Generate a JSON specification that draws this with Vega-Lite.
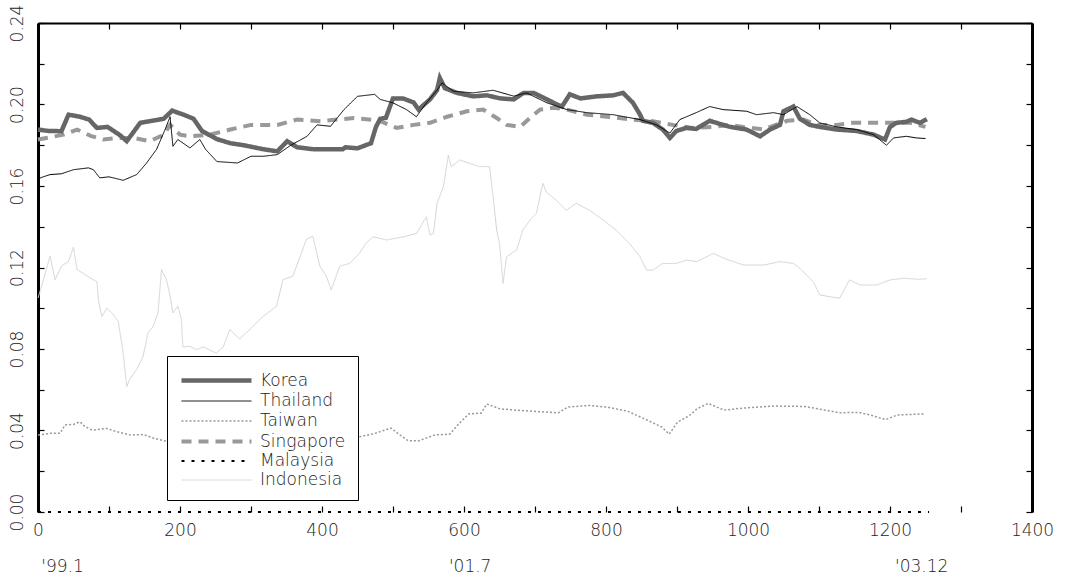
{
 "$schema": "https://vega.github.io/schema/vega-lite/v6.json",
 "width": 994,
 "height": 489,
 "autosize": {"type": "none"},
 "padding": {"left": 38, "top": 23, "right": 38, "bottom": 69},
 "background": "white",
 "config": {
  "view": {"stroke": null},
  "font": "DejaVu Sans",
  "axis": {"labelFont": "DejaVu Sans", "labelFontWeight": 200, "labelColor": "#222", "labelFontSize": 17, "grid": false, "tickColor": "black", "domainColor": "black", "title": null, "tickWidth": 1.2},
  "legend": {"padding": 12, "strokeColor": "#000000", "fillColor": "white", "symbolType": "M-3.5,0H3.5", "symbolSize": 400, "symbolOffset": 25, "labelOffset": 31, "labelFontSize": 17, "labelFont": "DejaVu Sans", "labelFontWeight": 200, "labelColor": "#222", "rowPadding": 0.5, "cornerRadius": 0}
 },
 "data": {"values": [
  {"s":"Indonesia","t":0,"v":0.105},{"s":"Indonesia","t":5,"v":0.1108},{"s":"Indonesia","t":17,"v":0.1256},{"s":"Indonesia","t":24,"v":0.114},{"s":"Indonesia","t":33,"v":0.1207},{"s":"Indonesia","t":43,"v":0.123},{"s":"Indonesia","t":50,"v":0.130},{"s":"Indonesia","t":55,"v":0.119},{"s":"Indonesia","t":64,"v":0.117},{"s":"Indonesia","t":78,"v":0.114},{"s":"Indonesia","t":83,"v":0.113},{"s":"Indonesia","t":85,"v":0.104},{"s":"Indonesia","t":90,"v":0.096},{"s":"Indonesia","t":97,"v":0.100},{"s":"Indonesia","t":106,"v":0.097},{"s":"Indonesia","t":113,"v":0.0936},{"s":"Indonesia","t":120,"v":0.078},{"s":"Indonesia","t":125,"v":0.0616},{"s":"Indonesia","t":129,"v":0.065},{"s":"Indonesia","t":139,"v":0.070},{"s":"Indonesia","t":148,"v":0.0764},{"s":"Indonesia","t":155,"v":0.088},{"s":"Indonesia","t":162,"v":0.091},{"s":"Indonesia","t":169,"v":0.0977},{"s":"Indonesia","t":174,"v":0.119},{"s":"Indonesia","t":181,"v":0.114},{"s":"Indonesia","t":186,"v":0.106},{"s":"Indonesia","t":190,"v":0.0977},{"s":"Indonesia","t":197,"v":0.101},{"s":"Indonesia","t":202,"v":0.0944},{"s":"Indonesia","t":204,"v":0.081},{"s":"Indonesia","t":214,"v":0.0813},{"s":"Indonesia","t":223,"v":0.0797},{"s":"Indonesia","t":233,"v":0.081},{"s":"Indonesia","t":251,"v":0.078},{"s":"Indonesia","t":261,"v":0.081},{"s":"Indonesia","t":270,"v":0.0895},{"s":"Indonesia","t":284,"v":0.085},{"s":"Indonesia","t":298,"v":0.0895},{"s":"Indonesia","t":317,"v":0.096},{"s":"Indonesia","t":336,"v":0.101},{"s":"Indonesia","t":345,"v":0.114},{"s":"Indonesia","t":359,"v":0.1158},{"s":"Indonesia","t":378,"v":0.1338},{"s":"Indonesia","t":387,"v":0.1354},{"s":"Indonesia","t":397,"v":0.1207},{"s":"Indonesia","t":406,"v":0.1158},{"s":"Indonesia","t":413,"v":0.109},{"s":"Indonesia","t":425,"v":0.1207},{"s":"Indonesia","t":439,"v":0.122},{"s":"Indonesia","t":453,"v":0.127},{"s":"Indonesia","t":462,"v":0.132},{"s":"Indonesia","t":472,"v":0.1351},{"s":"Indonesia","t":491,"v":0.1335},{"s":"Indonesia","t":515,"v":0.1351},{"s":"Indonesia","t":533,"v":0.1367},{"s":"Indonesia","t":547,"v":0.1449},{"s":"Indonesia","t":552,"v":0.136},{"s":"Indonesia","t":557,"v":0.1367},{"s":"Indonesia","t":562,"v":0.1515},{"s":"Indonesia","t":571,"v":0.1597},{"s":"Indonesia","t":578,"v":0.1752},{"s":"Indonesia","t":582,"v":0.1695},{"s":"Indonesia","t":594,"v":0.1728},{"s":"Indonesia","t":608,"v":0.1711},{"s":"Indonesia","t":622,"v":0.1695},{"s":"Indonesia","t":636,"v":0.1695},{"s":"Indonesia","t":641,"v":0.1547},{"s":"Indonesia","t":646,"v":0.1384},{"s":"Indonesia","t":650,"v":0.1318},{"s":"Indonesia","t":655,"v":0.1122},{"s":"Indonesia","t":660,"v":0.1253},{"s":"Indonesia","t":674,"v":0.1286},{"s":"Indonesia","t":683,"v":0.1384},{"s":"Indonesia","t":693,"v":0.1433},{"s":"Indonesia","t":702,"v":0.1466},{"s":"Indonesia","t":711,"v":0.1613},{"s":"Indonesia","t":716,"v":0.157},{"s":"Indonesia","t":730,"v":0.153},{"s":"Indonesia","t":744,"v":0.148},{"s":"Indonesia","t":758,"v":0.1515},{"s":"Indonesia","t":777,"v":0.148},{"s":"Indonesia","t":796,"v":0.1433},{"s":"Indonesia","t":814,"v":0.1384},{"s":"Indonesia","t":833,"v":0.1318},{"s":"Indonesia","t":848,"v":0.1253},{"s":"Indonesia","t":857,"v":0.1187},{"s":"Indonesia","t":866,"v":0.1187},{"s":"Indonesia","t":880,"v":0.122},{"s":"Indonesia","t":899,"v":0.122},{"s":"Indonesia","t":913,"v":0.1236},{"s":"Indonesia","t":928,"v":0.1229},{"s":"Indonesia","t":951,"v":0.1269},{"s":"Indonesia","t":970,"v":0.124},{"s":"Indonesia","t":994,"v":0.1212},{"s":"Indonesia","t":1022,"v":0.1212},{"s":"Indonesia","t":1045,"v":0.1229},{"s":"Indonesia","t":1064,"v":0.122},{"s":"Indonesia","t":1073,"v":0.1196},{"s":"Indonesia","t":1087,"v":0.1147},{"s":"Indonesia","t":1092,"v":0.113},{"s":"Indonesia","t":1101,"v":0.1065},{"s":"Indonesia","t":1115,"v":0.1057},{"s":"Indonesia","t":1129,"v":0.1049},{"s":"Indonesia","t":1143,"v":0.1139},{"s":"Indonesia","t":1158,"v":0.1114},{"s":"Indonesia","t":1181,"v":0.1114},{"s":"Indonesia","t":1200,"v":0.1139},{"s":"Indonesia","t":1219,"v":0.1147},{"s":"Indonesia","t":1242,"v":0.1142},{"s":"Indonesia","t":1252,"v":0.1145},
  {"s":"Taiwan","t":0,"v":0.0378},{"s":"Taiwan","t":17,"v":0.0386},{"s":"Taiwan","t":31,"v":0.0386},{"s":"Taiwan","t":38,"v":0.0427},{"s":"Taiwan","t":50,"v":0.043},{"s":"Taiwan","t":59,"v":0.0443},{"s":"Taiwan","t":66,"v":0.042},{"s":"Taiwan","t":76,"v":0.0402},{"s":"Taiwan","t":97,"v":0.041},{"s":"Taiwan","t":111,"v":0.0394},{"s":"Taiwan","t":130,"v":0.0378},{"s":"Taiwan","t":149,"v":0.038},{"s":"Taiwan","t":163,"v":0.0362},{"s":"Taiwan","t":177,"v":0.035},{"s":"Taiwan","t":200,"v":0.034},{"s":"Taiwan","t":250,"v":0.035},{"s":"Taiwan","t":300,"v":0.036},{"s":"Taiwan","t":350,"v":0.037},{"s":"Taiwan","t":400,"v":0.037},{"s":"Taiwan","t":440,"v":0.036},{"s":"Taiwan","t":472,"v":0.0383},{"s":"Taiwan","t":497,"v":0.0412},{"s":"Taiwan","t":506,"v":0.0388},{"s":"Taiwan","t":521,"v":0.035},{"s":"Taiwan","t":537,"v":0.035},{"s":"Taiwan","t":559,"v":0.0378},{"s":"Taiwan","t":580,"v":0.0382},{"s":"Taiwan","t":593,"v":0.0434},{"s":"Taiwan","t":607,"v":0.0482},{"s":"Taiwan","t":624,"v":0.0485},{"s":"Taiwan","t":632,"v":0.053},{"s":"Taiwan","t":651,"v":0.0506},{"s":"Taiwan","t":684,"v":0.0497},{"s":"Taiwan","t":733,"v":0.0487},{"s":"Taiwan","t":746,"v":0.0515},{"s":"Taiwan","t":776,"v":0.0523},{"s":"Taiwan","t":803,"v":0.0514},{"s":"Taiwan","t":830,"v":0.0495},{"s":"Taiwan","t":857,"v":0.0453},{"s":"Taiwan","t":879,"v":0.0416},{"s":"Taiwan","t":889,"v":0.0382},{"s":"Taiwan","t":901,"v":0.0442},{"s":"Taiwan","t":917,"v":0.0472},{"s":"Taiwan","t":928,"v":0.0506},{"s":"Taiwan","t":944,"v":0.0533},{"s":"Taiwan","t":966,"v":0.050},{"s":"Taiwan","t":993,"v":0.051},{"s":"Taiwan","t":1036,"v":0.052},{"s":"Taiwan","t":1080,"v":0.0518},{"s":"Taiwan","t":1129,"v":0.0487},{"s":"Taiwan","t":1156,"v":0.0489},{"s":"Taiwan","t":1172,"v":0.0476},{"s":"Taiwan","t":1194,"v":0.0453},{"s":"Taiwan","t":1210,"v":0.0476},{"s":"Taiwan","t":1250,"v":0.0482},
  {"s":"Malaysia","t":0,"v":0},{"s":"Malaysia","t":1255,"v":0},
  {"s":"Singapore","t":0,"v":0.1828},{"s":"Singapore","t":36,"v":0.1852},{"s":"Singapore","t":55,"v":0.1877},{"s":"Singapore","t":75,"v":0.1845},{"s":"Singapore","t":92,"v":0.1828},{"s":"Singapore","t":115,"v":0.1836},{"s":"Singapore","t":134,"v":0.1836},{"s":"Singapore","t":158,"v":0.182},{"s":"Singapore","t":177,"v":0.1852},{"s":"Singapore","t":186,"v":0.190},{"s":"Singapore","t":200,"v":0.1852},{"s":"Singapore","t":214,"v":0.1844},{"s":"Singapore","t":242,"v":0.1852},{"s":"Singapore","t":271,"v":0.1877},{"s":"Singapore","t":300,"v":0.190},{"s":"Singapore","t":337,"v":0.190},{"s":"Singapore","t":365,"v":0.1926},{"s":"Singapore","t":398,"v":0.1918},{"s":"Singapore","t":422,"v":0.1926},{"s":"Singapore","t":445,"v":0.1934},{"s":"Singapore","t":480,"v":0.1922},{"s":"Singapore","t":505,"v":0.1885},{"s":"Singapore","t":529,"v":0.190},{"s":"Singapore","t":552,"v":0.191},{"s":"Singapore","t":576,"v":0.194},{"s":"Singapore","t":604,"v":0.1967},{"s":"Singapore","t":627,"v":0.1975},{"s":"Singapore","t":646,"v":0.1934},{"s":"Singapore","t":660,"v":0.190},{"s":"Singapore","t":679,"v":0.189},{"s":"Singapore","t":693,"v":0.1934},{"s":"Singapore","t":707,"v":0.1975},{"s":"Singapore","t":726,"v":0.1984},{"s":"Singapore","t":745,"v":0.1975},{"s":"Singapore","t":773,"v":0.195},{"s":"Singapore","t":801,"v":0.194},{"s":"Singapore","t":838,"v":0.1926},{"s":"Singapore","t":866,"v":0.1918},{"s":"Singapore","t":894,"v":0.190},{"s":"Singapore","t":922,"v":0.1885},{"s":"Singapore","t":951,"v":0.189},{"s":"Singapore","t":975,"v":0.190},{"s":"Singapore","t":993,"v":0.189},{"s":"Singapore","t":1022,"v":0.1877},{"s":"Singapore","t":1055,"v":0.192},{"s":"Singapore","t":1078,"v":0.1926},{"s":"Singapore","t":1097,"v":0.190},{"s":"Singapore","t":1125,"v":0.190},{"s":"Singapore","t":1148,"v":0.191},{"s":"Singapore","t":1177,"v":0.191},{"s":"Singapore","t":1200,"v":0.191},{"s":"Singapore","t":1228,"v":0.191},{"s":"Singapore","t":1250,"v":0.189},
  {"s":"Korea","t":0,"v":0.1877},{"s":"Korea","t":15,"v":0.187},{"s":"Korea","t":33,"v":0.1869},{"s":"Korea","t":43,"v":0.195},{"s":"Korea","t":59,"v":0.194},{"s":"Korea","t":72,"v":0.1926},{"s":"Korea","t":83,"v":0.1885},{"s":"Korea","t":98,"v":0.189},{"s":"Korea","t":116,"v":0.1848},{"s":"Korea","t":125,"v":0.182},{"s":"Korea","t":144,"v":0.191},{"s":"Korea","t":177,"v":0.193},{"s":"Korea","t":189,"v":0.197},{"s":"Korea","t":205,"v":0.195},{"s":"Korea","t":219,"v":0.193},{"s":"Korea","t":231,"v":0.187},{"s":"Korea","t":252,"v":0.183},{"s":"Korea","t":271,"v":0.181},{"s":"Korea","t":290,"v":0.180},{"s":"Korea","t":318,"v":0.178},{"s":"Korea","t":337,"v":0.177},{"s":"Korea","t":351,"v":0.182},{"s":"Korea","t":365,"v":0.179},{"s":"Korea","t":389,"v":0.178},{"s":"Korea","t":412,"v":0.178},{"s":"Korea","t":429,"v":0.178},{"s":"Korea","t":433,"v":0.179},{"s":"Korea","t":450,"v":0.1785},{"s":"Korea","t":469,"v":0.181},{"s":"Korea","t":476,"v":0.189},{"s":"Korea","t":482,"v":0.193},{"s":"Korea","t":490,"v":0.1935},{"s":"Korea","t":500,"v":0.203},{"s":"Korea","t":514,"v":0.203},{"s":"Korea","t":529,"v":0.201},{"s":"Korea","t":536,"v":0.1975},{"s":"Korea","t":552,"v":0.2025},{"s":"Korea","t":562,"v":0.207},{"s":"Korea","t":566,"v":0.213},{"s":"Korea","t":573,"v":0.208},{"s":"Korea","t":590,"v":0.2057},{"s":"Korea","t":613,"v":0.204},{"s":"Korea","t":632,"v":0.2045},{"s":"Korea","t":651,"v":0.203},{"s":"Korea","t":670,"v":0.2025},{"s":"Korea","t":684,"v":0.2057},{"s":"Korea","t":698,"v":0.2057},{"s":"Korea","t":717,"v":0.2025},{"s":"Korea","t":731,"v":0.200},{"s":"Korea","t":738,"v":0.199},{"s":"Korea","t":749,"v":0.205},{"s":"Korea","t":764,"v":0.203},{"s":"Korea","t":787,"v":0.204},{"s":"Korea","t":810,"v":0.2045},{"s":"Korea","t":824,"v":0.2057},{"s":"Korea","t":838,"v":0.2008},{"s":"Korea","t":848,"v":0.195},{"s":"Korea","t":852,"v":0.192},{"s":"Korea","t":866,"v":0.191},{"s":"Korea","t":880,"v":0.1877},{"s":"Korea","t":890,"v":0.1836},{"s":"Korea","t":899,"v":0.187},{"s":"Korea","t":913,"v":0.1885},{"s":"Korea","t":927,"v":0.188},{"s":"Korea","t":946,"v":0.192},{"s":"Korea","t":965,"v":0.190},{"s":"Korea","t":975,"v":0.189},{"s":"Korea","t":998,"v":0.1877},{"s":"Korea","t":1017,"v":0.1844},{"s":"Korea","t":1031,"v":0.1877},{"s":"Korea","t":1045,"v":0.190},{"s":"Korea","t":1050,"v":0.1967},{"s":"Korea","t":1064,"v":0.199},{"s":"Korea","t":1073,"v":0.193},{"s":"Korea","t":1087,"v":0.190},{"s":"Korea","t":1101,"v":0.189},{"s":"Korea","t":1125,"v":0.1877},{"s":"Korea","t":1153,"v":0.187},{"s":"Korea","t":1177,"v":0.1852},{"s":"Korea","t":1193,"v":0.1828},{"s":"Korea","t":1200,"v":0.189},{"s":"Korea","t":1209,"v":0.191},{"s":"Korea","t":1223,"v":0.1915},{"s":"Korea","t":1230,"v":0.1926},{"s":"Korea","t":1242,"v":0.191},{"s":"Korea","t":1252,"v":0.1928},
  {"s":"Thailand","t":0,"v":0.162},{"s":"Thailand","t":3,"v":0.164},{"s":"Thailand","t":17,"v":0.1656},{"s":"Thailand","t":33,"v":0.166},{"s":"Thailand","t":50,"v":0.168},{"s":"Thailand","t":71,"v":0.1689},{"s":"Thailand","t":78,"v":0.168},{"s":"Thailand","t":87,"v":0.164},{"s":"Thailand","t":100,"v":0.1645},{"s":"Thailand","t":120,"v":0.1628},{"s":"Thailand","t":139,"v":0.1656},{"s":"Thailand","t":153,"v":0.1713},{"s":"Thailand","t":167,"v":0.178},{"s":"Thailand","t":179,"v":0.1877},{"s":"Thailand","t":186,"v":0.194},{"s":"Thailand","t":190,"v":0.1795},{"s":"Thailand","t":197,"v":0.1828},{"s":"Thailand","t":214,"v":0.1787},{"s":"Thailand","t":228,"v":0.1828},{"s":"Thailand","t":236,"v":0.178},{"s":"Thailand","t":252,"v":0.172},{"s":"Thailand","t":281,"v":0.1713},{"s":"Thailand","t":300,"v":0.1746},{"s":"Thailand","t":318,"v":0.1746},{"s":"Thailand","t":337,"v":0.1754},{"s":"Thailand","t":356,"v":0.180},{"s":"Thailand","t":379,"v":0.1844},{"s":"Thailand","t":393,"v":0.190},{"s":"Thailand","t":412,"v":0.1893},{"s":"Thailand","t":431,"v":0.1975},{"s":"Thailand","t":450,"v":0.204},{"s":"Thailand","t":474,"v":0.205},{"s":"Thailand","t":482,"v":0.2025},{"s":"Thailand","t":500,"v":0.2008},{"s":"Thailand","t":519,"v":0.1975},{"s":"Thailand","t":533,"v":0.194},{"s":"Thailand","t":547,"v":0.2008},{"s":"Thailand","t":562,"v":0.207},{"s":"Thailand","t":569,"v":0.2106},{"s":"Thailand","t":585,"v":0.2065},{"s":"Thailand","t":613,"v":0.2057},{"s":"Thailand","t":641,"v":0.207},{"s":"Thailand","t":670,"v":0.2041},{"s":"Thailand","t":688,"v":0.2057},{"s":"Thailand","t":717,"v":0.2008},{"s":"Thailand","t":745,"v":0.1975},{"s":"Thailand","t":773,"v":0.196},{"s":"Thailand","t":810,"v":0.195},{"s":"Thailand","t":848,"v":0.1926},{"s":"Thailand","t":871,"v":0.190},{"s":"Thailand","t":890,"v":0.186},{"s":"Thailand","t":904,"v":0.1926},{"s":"Thailand","t":927,"v":0.196},{"s":"Thailand","t":946,"v":0.199},{"s":"Thailand","t":965,"v":0.1975},{"s":"Thailand","t":998,"v":0.1967},{"s":"Thailand","t":1012,"v":0.195},{"s":"Thailand","t":1036,"v":0.196},{"s":"Thailand","t":1050,"v":0.195},{"s":"Thailand","t":1069,"v":0.199},{"s":"Thailand","t":1087,"v":0.195},{"s":"Thailand","t":1101,"v":0.191},{"s":"Thailand","t":1125,"v":0.189},{"s":"Thailand","t":1153,"v":0.1877},{"s":"Thailand","t":1177,"v":0.1852},{"s":"Thailand","t":1195,"v":0.180},{"s":"Thailand","t":1205,"v":0.1836},{"s":"Thailand","t":1223,"v":0.1844},{"s":"Thailand","t":1237,"v":0.1836},{"s":"Thailand","t":1250,"v":0.1833}
 ]},
 "layer": [
  {
   "mark": {"type": "line", "clip": false},
   "encoding": {
    "x": {"field": "t", "type": "quantitative", "scale": {"domain": [0, 1400], "nice": false, "zero": false},
      "axis": {"orient": "bottom", "values": [0,100,200,300,400,500,600,700,800,900,1000,1100,1200,1300,1400], "labelExpr": "datum.value % 200 == 0 ? datum.label : ''", "domain": false, "tickSize": -6, "labelPadding": 16, "format": "d", "labelFlush": false}},
    "y": {"field": "v", "type": "quantitative", "scale": {"domain": [0, 0.24], "nice": false},
      "axis": {"orient": "left", "values": [0,0.02,0.04,0.06,0.08,0.1,0.12,0.14,0.16,0.18,0.2,0.22,0.24], "labelExpr": "round(datum.value*100) % 4 == 0 ? format(datum.value, '.2f') : ''", "domainWidth": 3, "tickSize": -6, "labelAngle": 270, "labelAlign": "center", "labelBaseline": "bottom", "labelPadding": 18}},
    "color": {"field": "s", "type": "nominal",
      "scale": {"domain": ["Korea","Thailand","Taiwan","Singapore","Malaysia","Indonesia"], "range": ["#666666","#000000","#999999","#999999","#000000","#d4d4d4"]},
      "legend": {"orient": "none", "legendX": 129, "legendY": 333, "title": null}},
    "strokeWidth": {"field": "s", "type": "nominal",
      "scale": {"type": "ordinal", "domain": ["Korea","Thailand","Taiwan","Singapore","Malaysia","Indonesia"], "range": [4.5, 1, 1.5, 4, 2, 1]},
      "legend": {"orient": "none", "legendX": 129, "legendY": 333, "title": null}},
    "strokeDash": {"field": "s", "type": "nominal",
      "scale": {"domain": ["Korea","Thailand","Taiwan","Singapore","Malaysia","Indonesia"], "range": [[1,0],[1,0],[2,2],[10,7],[3,7],[1,0]]},
      "legend": {"orient": "none", "legendX": 129, "legendY": 333, "title": null}},
    "order": {"field": "t", "type": "quantitative"}
   }
  },
  {
   "transform": [{"filter": "datum.s == 'Malaysia'"}],
   "mark": {"type": "line", "opacity": 0},
   "encoding": {
    "x": {"field": "t", "type": "quantitative", "scale": {"domain": [0, 1400], "nice": false},
      "axis": {"orient": "top", "values": [0,100,200,300,400,500,600,700,800,900,1000,1100,1200,1300,1400], "labels": false, "domainWidth": 2, "tickSize": -6}},
    "y": {"field": "v", "type": "quantitative", "scale": {"domain": [0, 0.24], "nice": false},
      "axis": {"orient": "right", "values": [0,0.02,0.04,0.06,0.08,0.1,0.12,0.14,0.16,0.18,0.2,0.22,0.24], "labels": false, "domainWidth": 3, "tickSize": -6}}
   }
  },
  {
   "transform": [{"filter": "datum.s == 'Malaysia'"}],
   "mark": {"type": "line", "opacity": 0},
   "encoding": {
    "x": {"field": "t", "type": "quantitative", "scale": {"domain": [0, 1400], "nice": false},
      "axis": {"orient": "bottom", "values": [34, 608, 1244], "labelExpr": "datum.value == 34 ? \"'99.1\" : datum.value == 608 ? \"'01.7\" : \"'03.12\"", "domain": false, "ticks": false, "labelPadding": 46}},
    "y": {"field": "v", "type": "quantitative", "scale": {"domain": [0, 0.24], "nice": false}, "axis": null}
   }
  }
 ],
 "resolve": {"axis": {"x": "independent", "y": "independent"}}
}
